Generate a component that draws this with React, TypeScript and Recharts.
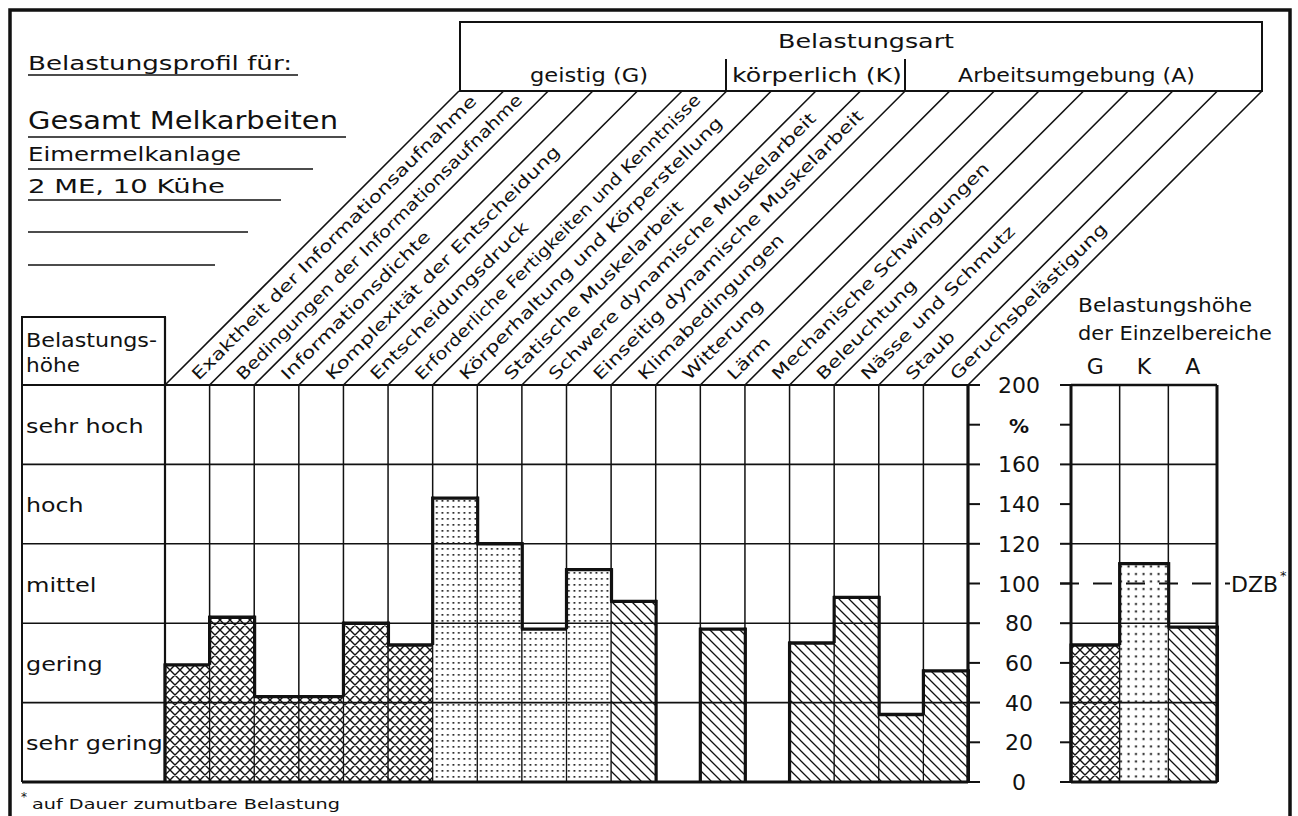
import React from "react";
import { Bar, BarChart, CartesianGrid, ReferenceLine, XAxis, YAxis } from "recharts";

// Belastungsprofil: Gesamt Melkarbeiten, Eimermelkanlage

const categories = [
  "Exaktheit der Informationsaufnahme",
  "Bedingungen der Informationsaufnahme",
  "Informationsdichte",
  "Komplexität der Entscheidung",
  "Entscheidungsdruck",
  "Erforderliche Fertigkeiten und Kenntnisse",
  "Körperhaltung und Körperstellung",
  "Statische Muskelarbeit",
  "Schwere dynamische Muskelarbeit",
  "Einseitig dynamische Muskelarbeit",
  "Klimabedingungen",
  "Witterung",
  "Lärm",
  "Mechanische Schwingungen",
  "Beleuchtung",
  "Nässe und Schmutz",
  "Staub",
  "Geruchsbelästigung",
];
const groups = ["G", "G", "G", "G", "G", "G", "K", "K", "K", "K", "A", "A", "A", "A", "A", "A", "A", "A"];
const values = [59, 83, 43, 43, 80, 69, 143, 120, 77, 107, 91, 0, 77, 0, 70, 93, 34, 56];

const summaryGroups = ["G", "K", "A"];
const summaryValues = [69, 110, 78];

const yTicks = [0, 20, 40, 60, 80, 100, 120, 140, 160, 180, 200];
const levelTicks = [20, 60, 100, 140, 180];
const levelNames = ["sehr gering", "gering", "mittel", "hoch", "sehr hoch"];
const rowLines = [40, 80, 120, 160];
const dzbValue = 100;

const data = categories.map((name, i) => ({ name, value: values[i], group: groups[i] }));
const summaryData = summaryGroups.map((name, i) => ({ name, value: summaryValues[i], group: name }));

const FONT = '"DejaVu Sans", sans-serif';
const INK = "#111";
const W = 1298;
const H = 816;
const TABLE_LEFT = 22;
const PLOT_LEFT = 165;
const PLOT_RIGHT = 968;
const PLOT_TOP = 385;
const PLOT_BOTTOM = 782;
const BOX_BOTTOM = 91;
const BW = (PLOT_RIGHT - PLOT_LEFT) / categories.length;

const mainPatterns: Record<string, string> = {
  G: "url(#pat-cross)",
  K: "url(#pat-dots)",
  A: "url(#pat-hatch)",
};
const summaryPatterns: Record<string, string> = {
  G: "url(#pat-cross)",
  K: "url(#pat-dots-big)",
  A: "url(#pat-hatch)",
};

let measureCtx: CanvasRenderingContext2D | null = null;
function measure(text: string, size: number) {
  if (!measureCtx) measureCtx = document.createElement("canvas").getContext("2d");
  if (!measureCtx) return text.length * size * 0.58;
  measureCtx.font = `${size}px "DejaVu Sans"`;
  return measureCtx.measureText(text).width;
}

function makeShape(vals: number[], grps: string[], pats: Record<string, string>) {
  return (props: any) => {
    const { x, y, width, height, index } = props;
    const v = vals[index];
    if (!v || !height || height <= 0) return <g />;
    const k = height / v;
    const bottom = y + height;
    const prev = index > 0 ? vals[index - 1] : 0;
    const next = index < vals.length - 1 ? vals[index + 1] : 0;
    return (
      <g>
        <rect x={x} y={y} width={width} height={height} fill={pats[grps[index]]} stroke={INK} strokeWidth={1.3} />
        <line x1={x - 1} y1={y} x2={x + width + 1} y2={y} stroke={INK} strokeWidth={3.4} />
        {prev < v && (
          <line x1={x} y1={y - 1.5} x2={x} y2={bottom - prev * k} stroke={INK} strokeWidth={3.2} />
        )}
        {next < v && (
          <line x1={x + width} y1={y - 1.5} x2={x + width} y2={bottom - next * k} stroke={INK} strokeWidth={3.2} />
        )}
      </g>
    );
  };
}

const DiagTick = (props: any) => {
  const { x, payload, index } = props;
  const xl = x - BW / 2;
  const xr = x + BW / 2;
  const rise = PLOT_TOP - BOX_BOTTOM;
  const label = String(payload.value);
  const natural = measure(label, 16) * 1.12 + 1.9 * label.length;
  const maxLen = 396;
  const len = Math.min(natural, maxLen);
  return (
    <g>
      <line x1={xl} y1={PLOT_TOP} x2={xl + rise} y2={BOX_BOTTOM} stroke={INK} strokeWidth={1.6} />
      {index === categories.length - 1 && (
        <line x1={xr} y1={PLOT_TOP} x2={xr + rise} y2={BOX_BOTTOM} stroke={INK} strokeWidth={1.6} />
      )}
      <text
        transform={`translate(${xr - 11},${PLOT_TOP - 4}) rotate(-45)`}
        fontSize={16.5}
        fontFamily={FONT}
        fill={INK}
        textLength={len}
        lengthAdjust="spacingAndGlyphs"
      >
        {label}
      </text>
    </g>
  );
};

const ValueTick = (props: any) => {
  const { y, payload } = props;
  const v = payload.value;
  return (
    <text
      x={1019}
      y={y + 8}
      textAnchor="middle"
      fontSize={v === 180 ? 20 : 22}
      fontWeight={v === 180 ? "bold" : "normal"}
      fontFamily={FONT}
      fill={INK}
    >
      {v === 180 ? "%" : v}
    </text>
  );
};

const GroupTick = (props: any) => {
  const { x, payload } = props;
  return (
    <text x={x} y={374} textAnchor="middle" fontSize={22} fontFamily={FONT} fill={INK}>
      {payload.value}
    </text>
  );
};

const EmptyTick = () => <g />;

const tableLine = (width: number) => (p: any) =>
  <line x1={TABLE_LEFT} y1={p.y1} x2={Math.max(p.x1, p.x2)} y2={p.y1} stroke={INK} strokeWidth={width} />;

const plainLine = (width: number) => (p: any) =>
  <line x1={p.x1} y1={p.y1} x2={p.x2} y2={p.y2} stroke={INK} strokeWidth={width} />;

const levelLabel = (name: string) => (p: any) => (
  <text
    x={26}
    y={p.y1 + 8}
    fontSize={20}
    fontFamily={FONT}
    fill={INK}
    textLength={measure(name, 20) * 1.12 + 0.8 * name.length}
    lengthAdjust="spacingAndGlyphs"
  >
    {name}
  </text>
);

const dzbLine = (p: any) => (
  <g>
    <line
      x1={Math.min(p.x1, p.x2) - 11}
      y1={p.y1}
      x2={Math.max(p.x1, p.x2) + 13}
      y2={p.y1}
      stroke={INK}
      strokeWidth={1.8}
      strokeDasharray="19 14"
    />
    <text x={Math.max(p.x1, p.x2) + 14} y={p.y1 + 8} fontSize={22} fontFamily={FONT} fill={INK}>
      DZB
    </text>
    <text x={Math.max(p.x1, p.x2) + 63} y={p.y1 - 4} fontSize={13} fontFamily={FONT} fill={INK}>
      *
    </text>
  </g>
);

const Patterns = () => (
  <svg width={0} height={0} style={{ position: "absolute" }}>
    <defs>
      <pattern id="pat-cross" patternUnits="userSpaceOnUse" width={10} height={10}>
        <rect width={10} height={10} fill="#fff" />
        <path d="M0,0 L10,10 M10,0 L0,10 M-1,9 L1,11 M9,-1 L11,1 M-1,1 L1,-1 M9,11 L11,9" stroke={INK} strokeWidth={1.4} />
      </pattern>
      <pattern id="pat-dots" patternUnits="userSpaceOnUse" width={5.5} height={6}>
        <rect width={5.5} height={6} fill="#fff" />
        <rect x={1.5} y={2} width={1.7} height={1.7} fill={INK} />
      </pattern>
      <pattern id="pat-dots-big" patternUnits="userSpaceOnUse" width={7.5} height={7.5}>
        <rect width={7.5} height={7.5} fill="#fff" />
        <rect x={2.5} y={3} width={2} height={2} fill={INK} />
      </pattern>
      <pattern id="pat-hatch" patternUnits="userSpaceOnUse" width={10} height={10}>
        <rect width={10} height={10} fill="#fff" />
        <path d="M0,0 L10,10 M-1,9 L1,11 M9,-1 L11,1" stroke={INK} strokeWidth={1.3} />
      </pattern>
    </defs>
  </svg>
);

const T = (p: { x: number; y: number; size: number; len: number; children: string }) => (
  <text x={p.x} y={p.y} fontSize={p.size} fill={INK} textLength={p.len} lengthAdjust="spacingAndGlyphs">
    {p.children}
  </text>
);

const Overlay = () => (
  <svg width={W} height={H} style={{ position: "absolute", left: 0, top: 0, pointerEvents: "none" }} fontFamily={FONT}>
    <rect x={10} y={10} width={1280} height={860} fill="none" stroke={INK} strokeWidth={3.5} />

    <T x={28} y={70} size={20} len={264}>Belastungsprofil für:</T>
    <line x1={28} y1={75} x2={298} y2={75} stroke={INK} strokeWidth={1.5} />
    <T x={28} y={129} size={24} len={310}>Gesamt Melkarbeiten</T>
    <line x1={28} y1={137} x2={346} y2={137} stroke={INK} strokeWidth={1.5} />
    <T x={28} y={161} size={20} len={213}>Eimermelkanlage</T>
    <line x1={28} y1={169} x2={313} y2={169} stroke={INK} strokeWidth={1.5} />
    <T x={28} y={193} size={20} len={197}>2 ME, 10 Kühe</T>
    <line x1={28} y1={200} x2={281} y2={200} stroke={INK} strokeWidth={1.5} />
    <line x1={28} y1={232} x2={248} y2={232} stroke={INK} strokeWidth={1.5} />
    <line x1={28} y1={265} x2={215} y2={265} stroke={INK} strokeWidth={1.5} />

    <rect x={460} y={22} width={802} height={BOX_BOTTOM - 22} fill="none" stroke={INK} strokeWidth={2} />
    <line x1={726} y1={59} x2={726} y2={BOX_BOTTOM} stroke={INK} strokeWidth={2} />
    <line x1={905} y1={59} x2={905} y2={BOX_BOTTOM} stroke={INK} strokeWidth={2} />
    <T x={778} y={48} size={20} len={176}>Belastungsart</T>
    <T x={530} y={82} size={19} len={118}>geistig (G)</T>
    <T x={732} y={82} size={19} len={170}>körperlich (K)</T>
    <T x={958} y={82} size={19} len={237}>Arbeitsumgebung (A)</T>

    <rect x={TABLE_LEFT} y={317} width={PLOT_LEFT - TABLE_LEFT} height={PLOT_TOP - 317} fill="none" stroke={INK} strokeWidth={2} />
    <T x={26} y={347} size={19} len={131}>Belastungs-</T>
    <T x={26} y={372} size={19} len={54}>höhe</T>

    <T x={1078} y={312} size={20} len={174}>Belastungshöhe</T>
    <T x={1078} y={340} size={20} len={194}>der Einzelbereiche</T>

    <text x={21} y={801} fontSize={12} fill={INK}>*</text>
    <T x={32} y={809} size={14} len={308}>auf Dauer zumutbare Belastung</T>
  </svg>
);

const columnLines = (count: number) => ({ offset }: any) =>
  Array.from({ length: count + 1 }, (_, i) => offset.left + (i * offset.width) / count);

export default function App() {
  return (
    <div style={{ position: "absolute", left: 0, top: 0, width: W, height: H, background: "#fff", overflow: "hidden" }}>
      <Patterns />
      <div style={{ position: "absolute", left: 0, top: 0 }}>
        <BarChart
          width={W}
          height={H}
          data={data}
          margin={{ top: PLOT_TOP - 30, right: W - PLOT_RIGHT - 60, left: PLOT_LEFT, bottom: H - PLOT_BOTTOM }}
          barCategoryGap={0}
          barGap={0}
        >
          <CartesianGrid
            horizontal={false}
            verticalCoordinatesGenerator={columnLines(categories.length)}
            stroke={INK}
            strokeWidth={1.5}
          />
          <XAxis
            dataKey="name"
            orientation="top"
            height={30}
            interval={0}
            axisLine={false}
            tickLine={false}
            tick={<DiagTick />}
          />
          <YAxis
            orientation="right"
            type="number"
            domain={[0, 200]}
            ticks={yTicks}
            width={60}
            tickSize={12}
            axisLine={{ stroke: INK, strokeWidth: 3.2 }}
            tickLine={{ stroke: INK, strokeWidth: 2 }}
            tick={<ValueTick />}
          />
          <Bar dataKey="value" isAnimationActive={false} shape={makeShape(values, groups, mainPatterns)} />
          {rowLines.map((v) => (
            <ReferenceLine key={v} y={v} shape={tableLine(1.6)} />
          ))}
          <ReferenceLine y={200} shape={tableLine(2)} />
          <ReferenceLine y={0} shape={tableLine(3.2)} />
          {levelTicks.map((v, i) => (
            <ReferenceLine key={`l${v}`} y={v} shape={levelLabel(levelNames[i])} />
          ))}
        </BarChart>
      </div>
      <div style={{ position: "absolute", left: 0, top: 0 }}>
        <BarChart
          width={W}
          height={H}
          data={summaryData}
          margin={{ top: PLOT_TOP - 30, right: W - 1217 - 1, left: 1071 - 20, bottom: H - PLOT_BOTTOM }}
          barCategoryGap={0}
          barGap={0}
        >
          <CartesianGrid
            horizontal={false}
            verticalCoordinatesGenerator={columnLines(summaryGroups.length)}
            stroke={INK}
            strokeWidth={1.5}
          />
          <XAxis
            dataKey="name"
            orientation="top"
            height={30}
            interval={0}
            axisLine={false}
            tickLine={false}
            tick={<GroupTick />}
          />
          <YAxis
            type="number"
            domain={[0, 200]}
            ticks={yTicks}
            width={20}
            tickSize={11}
            axisLine={{ stroke: INK, strokeWidth: 3 }}
            tickLine={{ stroke: INK, strokeWidth: 2 }}
            tick={<EmptyTick />}
          />
          <YAxis
            yAxisId="edge"
            orientation="right"
            type="number"
            domain={[0, 200]}
            width={1}
            tick={false}
            tickLine={false}
            axisLine={{ stroke: INK, strokeWidth: 3 }}
          />
          <Bar dataKey="value" isAnimationActive={false} shape={makeShape(summaryValues, summaryGroups, summaryPatterns)} />
          {rowLines.map((v) => (
            <ReferenceLine key={v} y={v} shape={plainLine(1.6)} />
          ))}
          <ReferenceLine y={200} shape={plainLine(2.4)} />
          <ReferenceLine y={0} shape={plainLine(3.2)} />
          <ReferenceLine y={dzbValue} shape={dzbLine} />
        </BarChart>
      </div>
      <svg width={W} height={H} style={{ position: "absolute", left: 0, top: 0, pointerEvents: "none" }}>
        <line x1={PLOT_LEFT} y1={317} x2={PLOT_LEFT} y2={PLOT_BOTTOM} stroke={INK} strokeWidth={2.2} />
        <line x1={TABLE_LEFT} y1={317} x2={TABLE_LEFT} y2={PLOT_BOTTOM} stroke={INK} strokeWidth={2} />
      </svg>
      <Overlay />
    </div>
  );
}
